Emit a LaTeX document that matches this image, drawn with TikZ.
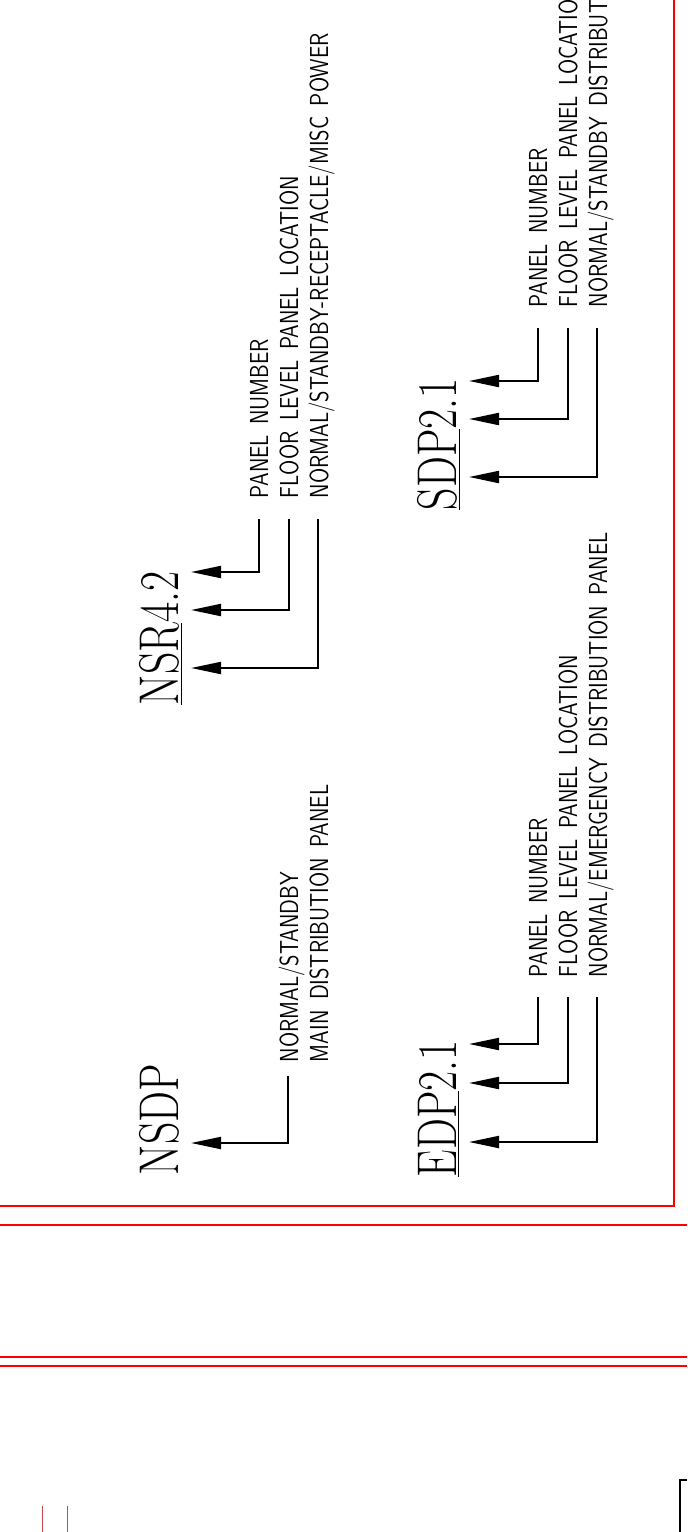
\documentclass[tikz,border=0pt]{standalone}
\usepackage{tikz}
\usetikzlibrary{arrows.meta,calc}
\definecolor{frame}{HTML}{FF0000}
\definecolor{tick}{HTML}{C84848}
\newcommand{\notefont}{\sffamily\fontsize{13}{13}\selectfont\spaceskip 0.5em\relax}

\begin{document}
\begin{tikzpicture}[x=0.5pt,y=-0.5pt,>={Triangle[length=15pt,width=6pt]},
    panel/.style={rotate=90,xscale=0.78,anchor=base west,inner sep=0pt,outer sep=0pt,outer ysep=6.5pt,text depth=0pt,font=\fontsize{28}{28}\selectfont},
    note/.style={rotate=90,xscale=0.81,anchor=base west,inner sep=0pt,outer sep=0pt,text depth=0pt,font=\notefont},
    leader/.style={->,line width=1pt}]
  \useasboundingbox (0,0) rectangle (687,1532);
  \clip (0,0) rectangle (687,1532);
  % sheet border
  \draw[frame,line width=1pt] (0,1206) -- (674,1206) -- (674,0);
  \draw[frame,line width=1pt] (0,1225) -- (687,1225);
  \draw[frame,line width=1.2pt] (0,1357) -- (687,1357);
  \draw[frame,line width=0.8pt] (0,1366) -- (687,1366);
  \draw[tick,line width=0.5pt] (42,1506) -- (42,1532) (67,1506) -- (67,1532);
  \draw[line width=0.8pt] (687,1480) -- (680,1480) -- (680,1532);
  % panel names
  \node[panel] (nsdp) at (178,1175) {NSDP};
  \node[panel] (nsr) at (178,705) {\underline{NSR}4.2};
  \node[panel] (edp) at (456,1177) {\underline{EDP}2.1};
  \node[panel] (sdp) at (456,510) {\underline{SDP}2.1};
  % notes
  \node[note] (nsdpA) at (298,1062) {NORMAL/STANDBY};
  \node[note] (nsdpB) at (328,1062) {MAIN DISTRIBUTION PANEL};
  \node[note] (nsrA) at (268,498) {PANEL NUMBER};
  \node[note] (nsrB) at (298,498) {FLOOR LEVEL PANEL LOCATION};
  \node[note] (nsrC) at (328,498) {NORMAL/STANDBY-RECEPTACLE/MISC POWER};
  \node[note] (edpA) at (547,977) {PANEL NUMBER};
  \node[note] (edpB) at (577,977) {FLOOR LEVEL PANEL LOCATION};
  \node[note] (edpC) at (607,977) {NORMAL/EMERGENCY DISTRIBUTION PANEL};
  \node[note] (sdpA) at (547,307) {PANEL NUMBER};
  \node[note] (sdpB) at (577,307) {FLOOR LEVEL PANEL LOCATION};
  \node[note] (sdpC) at (607,307) {NORMAL/STANDBY DISTRIBUTION PANEL};
  % leaders
  \draw[leader] ($(nsdpA.west)+(0,14)$) |- (nsdp.south |- 0,1143);
  \foreach \g/\ya/\yb/\yc/\gap in {nsr/572/610/668/21,edp/1044/1083/1142/20,sdp/381/419/477/21}{
    \draw[leader] ($(\g A.west)+(0,\gap)$) |- (\g.south |- 0,\ya);
    \draw[leader] ($(\g B.west)+(0,\gap)$) |- (\g.south |- 0,\yb);
    \draw[leader] ($(\g C.west)+(0,\gap)$) |- (\g.south |- 0,\yc);
  }
\end{tikzpicture}
\end{document}
